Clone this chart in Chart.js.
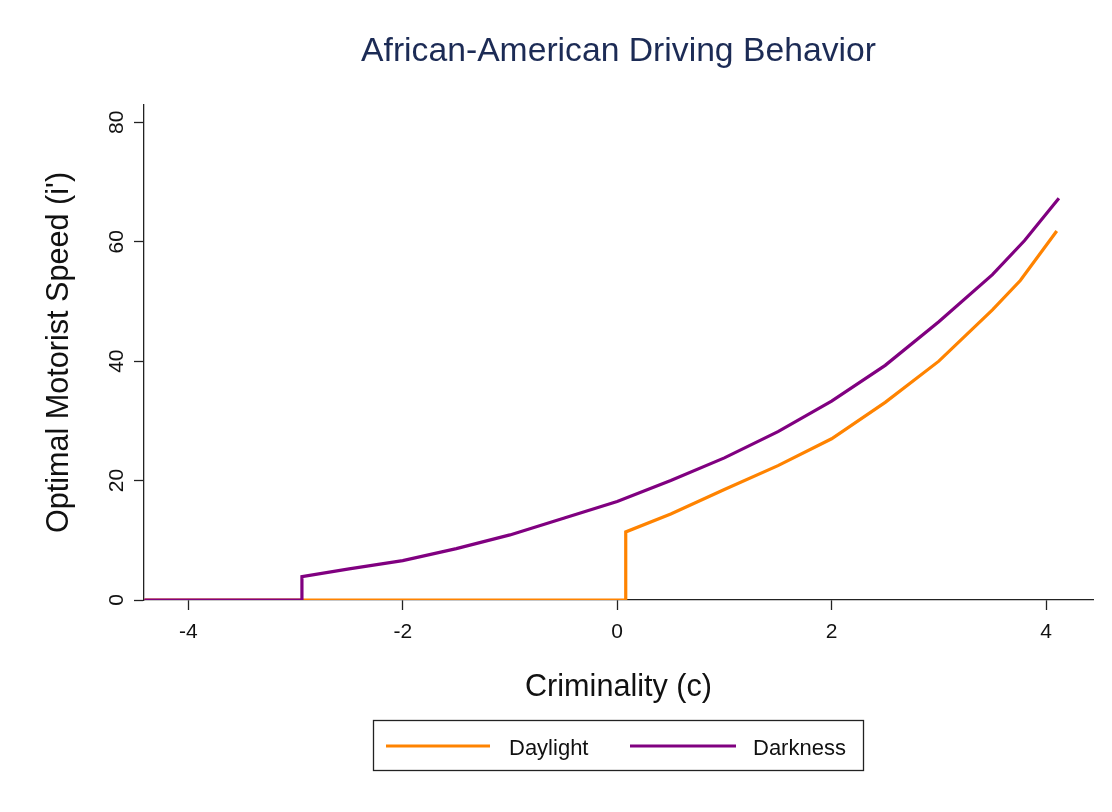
<!DOCTYPE html>
<html>
<head>
<meta charset="utf-8">
<script src="https://cdn.jsdelivr.net/npm/chart.js@4.4.0/dist/chart.umd.min.js"></script>
<style>
html,body{margin:0;padding:0;background:#ffffff;}
#wrap{width:1112px;height:812px;position:relative;}
</style>
</head>
<body>
<div id="wrap"><canvas id="c" width="1112" height="812"></canvas></div>
<script>
// ---- chart text ----
const chartTitle = 'African-American Driving Behavior';
const xAxisTitle = 'Criminality (c)';
const yAxisTitle = "Optimal Motorist Speed (i')";
const seriesNames = ['Daylight', 'Darkness'];
const seriesColors = ['#ff8300', '#800080'];

// ---- tick labels ----
const xTicks = [-4, -2, 0, 2, 4];
const yTicks = [0, 20, 40, 60, 80];

// ---- series values ----
const daylightC     = [-4.41, 0.08, 0.08, 0.5, 1.0, 1.5, 2.0, 2.5, 3.0, 3.5, 3.76, 4.10];
const daylightSpeed = [0, 0, 11.4, 14.4, 18.5, 22.5, 27.0, 33.1, 40.0, 48.6, 53.5, 61.8];

const darknessC     = [-4.41, -2.94, -2.94, -2.5, -2.0, -1.5, -1.0, -0.5, 0.0, 0.5, 1.0, 1.5, 2.0, 2.5, 3.0, 3.5, 3.8, 4.12];
const darknessSpeed = [0, 0, 3.9, 5.2, 6.6, 8.6, 10.9, 13.7, 16.5, 20.0, 23.8, 28.2, 33.3, 39.3, 46.6, 54.5, 60.2, 67.3];

const FONT = '"Liberation Sans", Arial, Helvetica, sans-serif';
const toPoints = (xs, ys) => xs.map((x, i) => ({ x: x, y: ys[i] }));

const decor = {
  id: 'decor',
  afterDraw(chart) {
    const { ctx, chartArea } = chart;
    ctx.save();
    // title centred over the plot region
    ctx.fillStyle = '#1c2b55';
    ctx.font = '33.7px ' + FONT;
    ctx.textAlign = 'center';
    ctx.textBaseline = 'alphabetic';
    ctx.fillText(chartTitle, (chartArea.left + chartArea.right) / 2, 61);

    // framed legend
    ctx.strokeStyle = '#222222';
    ctx.lineWidth = 1.3;
    ctx.strokeRect(373.5, 720.5, 490, 50);
    const slots = [{ x0: 386, x1: 490, tx: 509 }, { x0: 630, x1: 736, tx: 753 }];
    ctx.font = '22px ' + FONT;
    ctx.textAlign = 'left';
    ctx.textBaseline = 'alphabetic';
    chart.data.datasets.forEach((ds, i) => {
      const s = slots[i];
      ctx.strokeStyle = ds.borderColor;
      ctx.lineWidth = 3;
      ctx.beginPath();
      ctx.moveTo(s.x0, 746);
      ctx.lineTo(s.x1, 746);
      ctx.stroke();
      ctx.fillStyle = '#111111';
      ctx.fillText(ds.label, s.tx, 755);
    });
    ctx.restore();
  }
};

new Chart(document.getElementById('c'), {
  type: 'scatter',
  data: {
    datasets: [
      {
        label: seriesNames[0],
        data: toPoints(daylightC, daylightSpeed),
        showLine: true,
        borderColor: seriesColors[0],
        backgroundColor: seriesColors[0],
        borderWidth: 3.2,
        pointRadius: 0,
        pointHoverRadius: 0,
        tension: 0,
        order: 1
      },
      {
        label: seriesNames[1],
        data: toPoints(darknessC, darknessSpeed),
        showLine: true,
        borderColor: seriesColors[1],
        backgroundColor: seriesColors[1],
        borderWidth: 3.2,
        pointRadius: 0,
        pointHoverRadius: 0,
        tension: 0,
        order: 0
      }
    ]
  },
  options: {
    responsive: false,
    animation: false,
    devicePixelRatio: 1,
    layout: { padding: { top: 105, left: 0, right: 19, bottom: 92 } },
    plugins: {
      legend: { display: false },
      title: { display: false },
      tooltip: { enabled: false }
    },
    scales: {
      x: {
        type: 'linear',
        min: -4.413,
        max: 4.438,
        afterFit: (s) => { s.height = 120; },
        afterBuildTicks: (s) => { s.ticks = xTicks.map(v => ({ value: v })); },
        border: { display: true, color: '#222222', width: 1.3 },
        grid: { display: true, drawOnChartArea: false, drawTicks: true, tickLength: 10, tickColor: '#222222', tickWidth: 1.3 },
        ticks: { color: '#111111', font: { family: FONT, size: 21 }, padding: 10, maxRotation: 0, minRotation: 0 },
        title: { display: true, text: xAxisTitle, color: '#111111', font: { family: FONT, size: 30.6 }, padding: { top: 0, bottom: 13.6 } }
      },
      y: {
        type: 'linear',
        min: 0,
        max: 82.9,
        afterFit: (s) => { s.width = 144; },
        afterBuildTicks: (s) => { s.ticks = yTicks.map(v => ({ value: v })); },
        border: { display: true, color: '#222222', width: 1.3 },
        grid: { display: true, drawOnChartArea: false, drawTicks: true, tickLength: 10, tickColor: '#222222', tickWidth: 1.3 },
        ticks: { color: '#111111', font: { family: FONT, size: 21 }, padding: 5, minRotation: 90, maxRotation: 90, crossAlign: 'center' },
        title: { display: true, text: yAxisTitle, color: '#111111', font: { family: FONT, size: 30.6 }, padding: { top: 41.6, bottom: 0 } }
      }
    }
  },
  plugins: [decor]
});
</script>
</body>
</html>
